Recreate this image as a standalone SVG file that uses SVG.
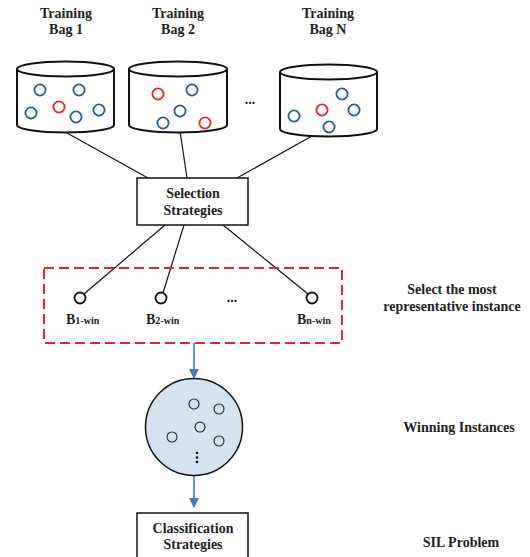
<svg xmlns="http://www.w3.org/2000/svg" width="530" height="557" viewBox="0 0 530 557">
<style>
text{font-family:"Liberation Serif","Times New Roman",serif;font-weight:bold;font-size:14px;fill:#222;text-anchor:middle}
.cyl{fill:#fff;stroke:#111;stroke-width:2}
.b{fill:none;stroke:#2e5b8c;stroke-width:1.8}
.r{fill:none;stroke:#e5232b;stroke-width:1.8}
.ln{stroke:#111;stroke-width:1.2;fill:none}
.box{fill:#fff;stroke:#111;stroke-width:1.5}
.sm{fill:#fff;stroke:#111;stroke-width:1.8}
.wi{fill:none;stroke:#222;stroke-width:1.1}
.sub{font-size:10px}
.arr{stroke:#4a74bd;stroke-width:1.6;fill:none}
</style>
<defs>
<marker id="ah" markerWidth="10" markerHeight="10" refX="9" refY="5" orient="auto" markerUnits="userSpaceOnUse">
<path d="M0,0 L10,5 L0,10 Z" fill="#4a74bd"/>
</marker>
</defs>
<g id="connectors">
<line class="ln" x1="67" y1="133" x2="148" y2="178"/>
<line class="ln" x1="180" y1="131" x2="187" y2="178"/>
<line class="ln" x1="312" y1="136" x2="237" y2="178"/>
<line class="ln" x1="165" y1="225" x2="84" y2="294"/>
<line class="ln" x1="184" y1="225" x2="163" y2="293"/>
<line class="ln" x1="223" y1="225" x2="308" y2="294"/>
<line class="arr" x1="194" y1="343" x2="194" y2="378" marker-end="url(#ah)"/>
<line class="arr" x1="194" y1="476" x2="194" y2="507" marker-end="url(#ah)"/>
</g>
<g id="bag1">
<text x="66" y="18">Training</text>
<text x="66" y="34">Bag 1</text>
<path class="cyl" d="M17,69 L17,125 A48.5,7.5 0 0 0 114,125 L114,69"/>
<ellipse class="cyl" cx="65.5" cy="69" rx="48.5" ry="7.5"/>
<circle class="b" cx="40" cy="90" r="5.6"/>
<circle class="b" cx="79" cy="90" r="5.6"/>
<circle class="b" cx="31" cy="113" r="5.6"/>
<circle class="r" cx="59" cy="107" r="5.6"/>
<circle class="b" cx="76" cy="117" r="5.6"/>
<circle class="b" cx="99" cy="110" r="5.6"/>
</g>
<g id="bag2">
<text x="178" y="18">Training</text>
<text x="178" y="34">Bag 2</text>
<path class="cyl" d="M129,69 L129,125 A49,7.5 0 0 0 227,125 L227,69"/>
<ellipse class="cyl" cx="178" cy="69" rx="49" ry="7.5"/>
<circle class="r" cx="158" cy="94" r="5.6"/>
<circle class="b" cx="192" cy="90" r="5.6"/>
<circle class="b" cx="180" cy="111" r="5.6"/>
<circle class="b" cx="163" cy="123" r="5.6"/>
<circle class="r" cx="205" cy="123" r="5.6"/>
</g>
<text x="250" y="104">...</text>
<g id="bagN">
<text x="328" y="18">Training</text>
<text x="328" y="34">Bag N</text>
<path class="cyl" d="M280,72 L280,129 A48.5,7.5 0 0 0 377,129 L377,72"/>
<ellipse class="cyl" cx="328.5" cy="72" rx="48.5" ry="7.5"/>
<circle class="b" cx="342" cy="94" r="5.6"/>
<circle class="r" cx="322" cy="110" r="5.6"/>
<circle class="b" cx="354" cy="110" r="5.6"/>
<circle class="b" cx="294" cy="116" r="5.6"/>
<circle class="b" cx="329" cy="127" r="5.6"/>
</g>
<g id="selection">
<rect class="box" x="137" y="178" width="111" height="47"/>
<text x="193" y="198">Selection</text>
<text x="193" y="215">Strategies</text>
</g>
<g id="winners">
<rect x="44" y="268" width="298" height="75" fill="none" stroke="#e5232b" stroke-width="2" stroke-dasharray="10,5"/>
<circle class="sm" cx="80" cy="298" r="5.5"/>
<circle class="sm" cx="161" cy="298" r="5.5"/>
<circle class="sm" cx="312" cy="298" r="5.5"/>
<text x="232" y="302">...</text>
<text x="66" y="324" text-anchor="start" style="text-anchor:start">B<tspan class="sub">1-win</tspan></text>
<text x="146" y="324" style="text-anchor:start">B<tspan class="sub">2-win</tspan></text>
<text x="297" y="324" style="text-anchor:start">B<tspan class="sub">n-win</tspan></text>
</g>
<g id="label-select">
<text x="452" y="294">Select the most</text>
<text x="452" y="311">representative instance</text>
</g>
<g id="winning">
<circle cx="194" cy="427" r="48.5" fill="#d5e3f0" stroke="#111" stroke-width="1.5"/>
<circle class="wi" cx="194" cy="404" r="5"/>
<circle class="wi" cx="219" cy="409" r="5"/>
<circle class="wi" cx="200" cy="427" r="5"/>
<circle class="wi" cx="172" cy="437" r="5"/>
<circle class="wi" cx="219" cy="441" r="5"/>
<circle cx="197" cy="453" r="1.3" fill="#111"/>
<circle cx="197" cy="457.5" r="1.3" fill="#111"/>
<circle cx="197" cy="462" r="1.3" fill="#111"/>
</g>
<text x="459" y="432">Winning Instances</text>
<g id="classification">
<rect class="box" x="137" y="513" width="111" height="60"/>
<text x="193" y="533">Classification</text>
<text x="193" y="549">Strategies</text>
</g>
<text x="461" y="547">SIL Problem</text>
</svg>
